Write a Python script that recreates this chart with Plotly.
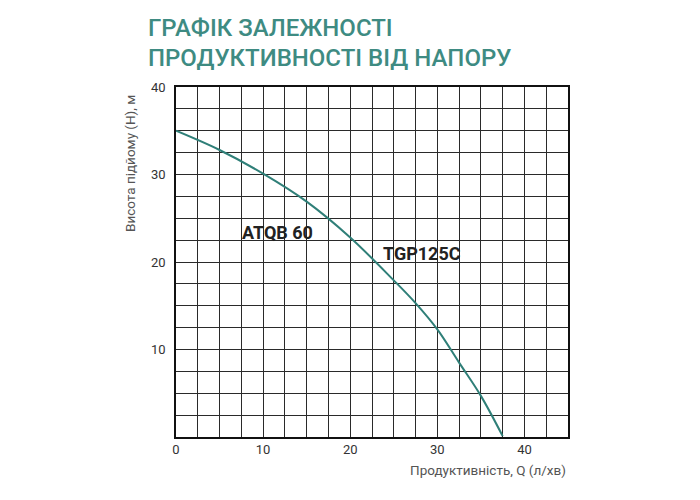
import plotly.graph_objects as go

# Data
flow_q = [0, 5, 10, 15, 20, 25, 27.5, 30, 32.5, 35, 37.5]
head_h = [35, 32.8, 30.1, 26.9, 22.8, 17.9, 15.3, 12.3, 8.5, 4.7, 0.1]
x_ticks = [0, 10, 20, 30, 40]
y_ticks = [10, 20, 30, 40]
title_lines = ["ГРАФІК ЗАЛЕЖНОСТІ", "ПРОДУКТИВНОСТІ ВІД НАПОРУ"]
x_title = "Продуктивність, Q (л/хв)"
y_title = "Висота підйому (Н), м"
labels = [("ATQB 60", 11.7, 23.4), ("TGP125C", 28.2, 21.0)]

OFF = 8  # page body margin
W, H = 700, 500
L, T = 176 - OFF, 87 - OFF
pw, ph = 392, 350
R = W - L - pw
B = H - T - ph

def px(x):
    return (x - OFF - L) / pw

def py(y):
    return (T + ph + OFF - y) / ph

fig = go.Figure()
fig.add_trace(go.Scatter(x=flow_q, y=head_h, mode="lines",
                         line=dict(color="#2f7f78", width=2, shape="spline", smoothing=1),
                         hoverinfo="skip", showlegend=False))

grid = "#2a2a2a"
tickfont = dict(family="Roboto", size=13, color="#333")
fig.update_xaxes(range=[0, 45], tickmode="array", tickvals=x_ticks, showgrid=True,
                 gridcolor=grid, gridwidth=1, zeroline=False,
                 showline=True, linecolor="#111", linewidth=1.5, mirror=True,
                 ticks="", tickfont=tickfont,
                 minor=dict(tickmode="linear", tick0=0, dtick=2.5, showgrid=True,
                            gridcolor=grid, gridwidth=1),
                 fixedrange=True)
fig.update_yaxes(range=[0, 40], tickmode="array", tickvals=y_ticks, showgrid=True,
                 gridcolor=grid, gridwidth=1, zeroline=False,
                 showline=True, linecolor="#111", linewidth=1.5, mirror=True,
                 ticks="", ticklabelstandoff=6, tickfont=tickfont,
                 minor=dict(tickmode="linear", tick0=0, dtick=2.5, showgrid=True,
                            gridcolor=grid, gridwidth=1),
                 fixedrange=True)

ann = []
for line, yy in zip(title_lines, [28, 58]):
    ann.append(dict(text=line, x=px(146), y=py(yy), xref="paper", yref="paper",
                    xanchor="left", yanchor="middle", showarrow=False,
                    font=dict(family="Roboto", size=24, color="#3e8b82", weight=500)))
ann.append(dict(text=x_title, x=px(568), y=py(470), xref="paper", yref="paper",
                xanchor="right", yanchor="middle", showarrow=False,
                font=dict(family="Roboto", size=13.5, color="#555")))
ann.append(dict(text=y_title, x=px(130), y=py(164), xref="paper", yref="paper",
                xanchor="center", yanchor="middle", showarrow=False, textangle=-90,
                font=dict(family="Roboto", size=13.5, color="#555")))
for txt, lx, ly in labels:
    ann.append(dict(text="<b>" + txt + "</b>", x=lx, y=ly, xref="x", yref="y",
                    xanchor="center", yanchor="middle", showarrow=False,
                    font=dict(family="Roboto", size=18, color="#222")))

fig.update_layout(width=W, height=H, margin=dict(l=L, r=R, t=T, b=B),
                  paper_bgcolor="white", plot_bgcolor="white",
                  annotations=ann, showlegend=False)

fig.write_html("out.html")
